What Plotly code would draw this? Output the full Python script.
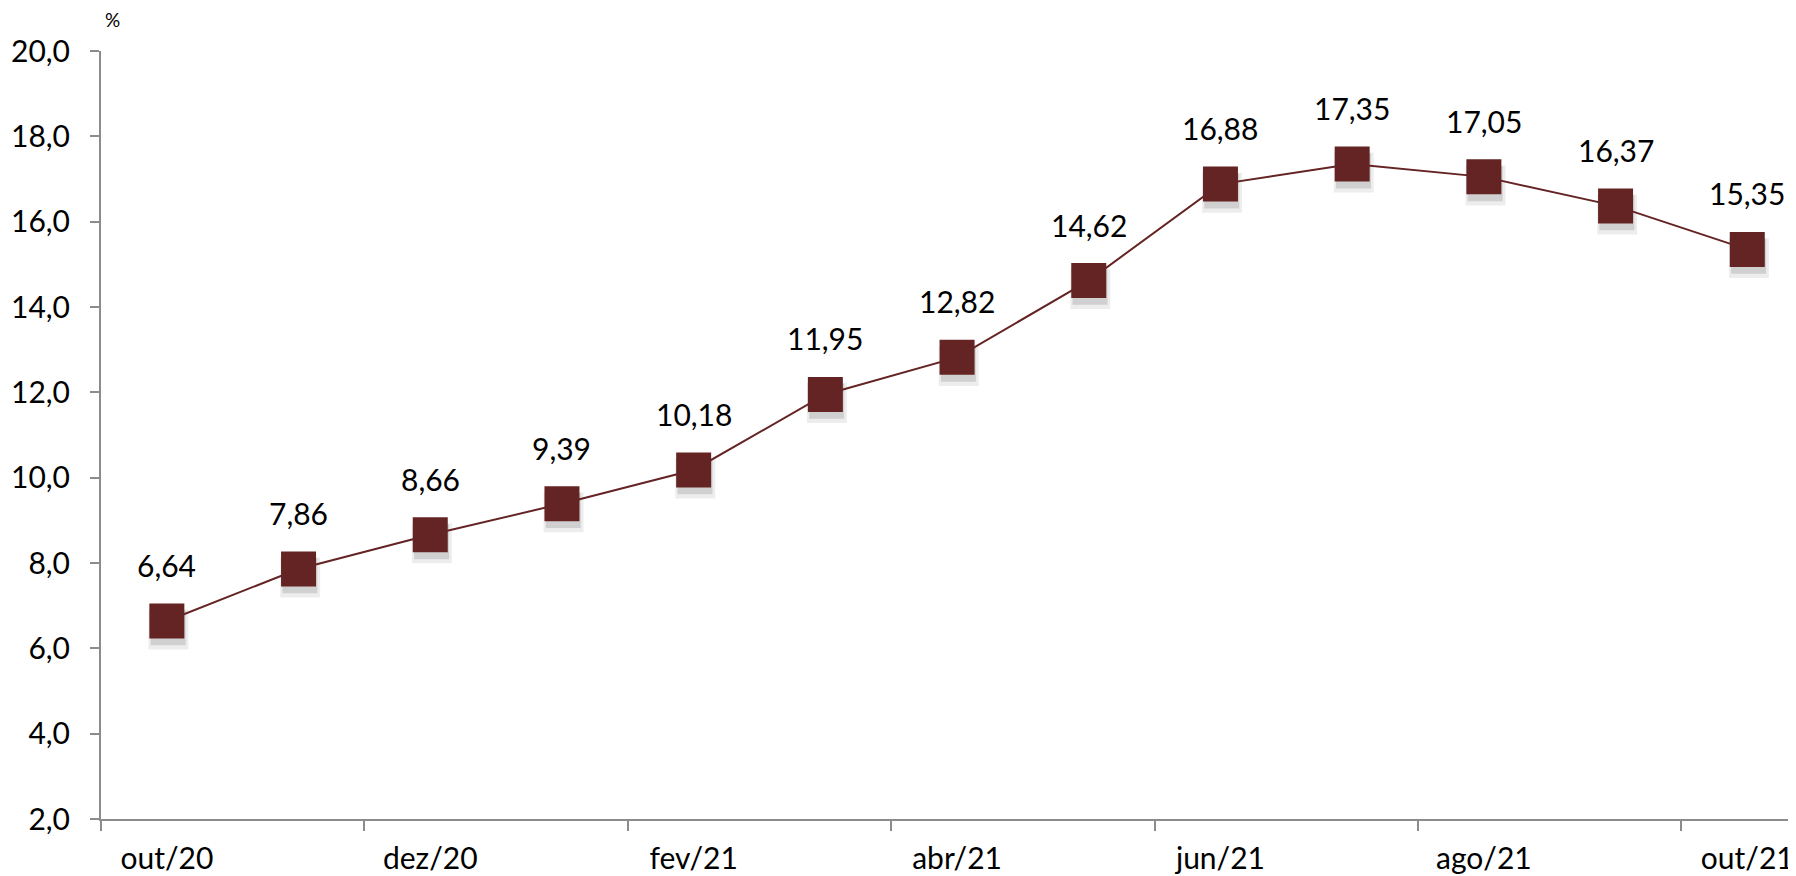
import plotly.graph_objects as go

categories = ["out/20", "nov/20", "dez/20", "jan/21", "fev/21", "mar/21", "abr/21",
              "mai/21", "jun/21", "jul/21", "ago/21", "set/21", "out/21"]
values = [6.64, 7.86, 8.66, 9.39, 10.18, 11.95, 12.82, 14.62, 16.88, 17.35, 17.05, 16.37, 15.35]
label_text = ["6,64", "7,86", "8,66", "9,39", "10,18", "11,95", "12,82", "14,62",
              "16,88", "17,35", "17,05", "16,37", "15,35"]
y_ticks = [2, 4, 6, 8, 10, 12, 14, 16, 18, 20]

x_idx = list(range(len(categories)))
COLOR = "#642423"
AXIS = "#8c8c8c"
FONT = "Lato, Carlito, Calibri, sans-serif"

fig = go.Figure()

# soft shadow under markers (two layers for a blurred look)
for dx, dy, sz, a in [(0.012, -0.20, 40, 0.07), (0.01, -0.16, 35, 0.12)]:
    fig.add_trace(go.Scatter(
        x=[i + dx for i in x_idx], y=[v + dy for v in values], mode="markers",
        marker=dict(symbol="square", size=sz, color=f"rgba(0,0,0,{a})", line=dict(width=0)),
        hoverinfo="skip", showlegend=False))

fig.add_trace(go.Scatter(
    x=x_idx, y=values, mode="lines+markers",
    line=dict(color=COLOR, width=2),
    marker=dict(symbol="square", size=35, color=COLOR, line=dict(width=0)),
    showlegend=False))

for i, (v, t) in enumerate(zip(values, label_text)):
    fig.add_annotation(x=i, y=v, text=t, showarrow=False, yshift=56,
                       font=dict(family=FONT, size=30, color="black"))

fig.add_annotation(xref="paper", yref="paper", x=0, y=1, xanchor="center", yanchor="middle",
                   xshift=11, yshift=32, text="%", showarrow=False,
                   font=dict(family=FONT, size=19, color="black"))

fig.update_layout(
    width=1788, height=868,
    margin=dict(l=93, r=0, t=43, b=57),
    paper_bgcolor="white", plot_bgcolor="white",
    separators=",.",
    font=dict(family=FONT, size=30, color="black"),
    xaxis=dict(
        range=[-0.5, 12.37],
        tickvals=x_idx[::2], ticktext=categories[::2],
        ticks="", showgrid=False, zeroline=False,
        showline=True, linecolor=AXIS, linewidth=2,
        ticklabelstandoff=12, ticklabeloverflow="allow",
        tickfont=dict(family=FONT, size=30, color="black"),
        minor=dict(tickvals=[i - 0.5 for i in x_idx[::2]], ticks="outside",
                   ticklen=10, tickwidth=2, tickcolor=AXIS, showgrid=False),
    ),
    yaxis=dict(
        range=[2, 20], tickvals=y_ticks, tickformat=".1f",
        ticks="outside", ticklen=9, tickwidth=2, tickcolor=AXIS,
        showgrid=False, zeroline=False,
        showline=True, linecolor=AXIS, linewidth=2,
        ticklabelstandoff=14,
        tickfont=dict(family=FONT, size=30, color="black"),
    ),
)

fig.write_html("out.html")
